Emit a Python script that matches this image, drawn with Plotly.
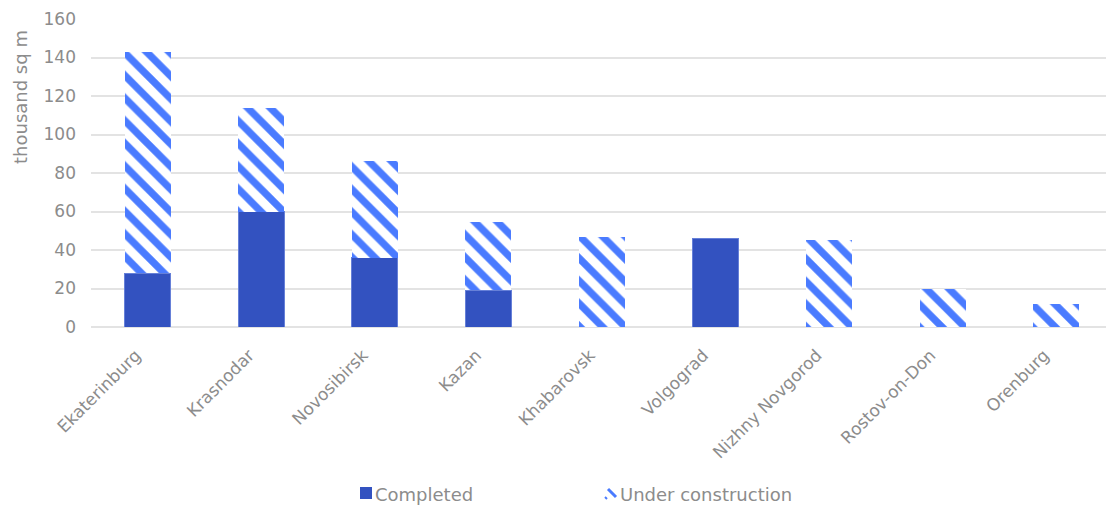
import plotly.graph_objects as go

cities = ["Ekaterinburg", "Krasnodar", "Novosibirsk", "Kazan", "Khabarovsk",
          "Volgograd", "Nizhny Novgorod", "Rostov-on-Don", "Orenburg"]
completed = [28, 60, 36, 19, 0, 46, 0, 0, 0]
under_construction = [115, 54, 50, 35.5, 47, 0, 45, 20, 12]
y_ticks = [0, 20, 40, 60, 80, 100, 120, 140, 160]

font_family = "DejaVu Sans, Verdana, sans-serif"
gray = "#8c8c8c"
c_done = "#3352c0"
c_hatch = "#4a7bff"

W, H = 1106, 508
ML, MR, MT, MB = 91, 0, 19, 181
PW, PH = W - ML - MR, H - MT - MB


def px(x):
    return (x - ML) / PW


def py(y):
    return (H - MB - y) / PH


fig = go.Figure()
fig.add_trace(go.Bar(
    x=cities, y=completed, name="Completed", width=0.405,
    marker=dict(color=c_done, line=dict(color="#6680d8", width=1)),
))
fig.add_trace(go.Bar(
    x=cities, y=under_construction, name="Under construction", width=0.405,
    marker=dict(color="white", line=dict(width=0),
                pattern=dict(shape="\\", fgcolor=c_hatch, bgcolor="white",
                             fgopacity=1, size=16, solidity=0.45,
                             fillmode="overlay")),
))

fig.add_annotation(text="thousand sq m", xref="paper", yref="paper",
                   x=px(20), y=py(97), xanchor="center", yanchor="middle",
                   textangle=-90, showarrow=False,
                   font=dict(size=18, color=gray, family=font_family))

# legend drawn manually along the bottom edge
LY = 494
legend_font = dict(size=18, color=gray, family=font_family)
fig.add_shape(type="rect", xref="paper", yref="paper",
              x0=px(360), x1=px(372), y0=py(LY + 5), y1=py(LY - 7),
              fillcolor=c_done, line=dict(width=0))
fig.add_annotation(text="Completed", xref="paper", yref="paper",
                   x=px(373), y=py(LY), xanchor="left", yanchor="middle",
                   showarrow=False, font=legend_font)
fig.add_shape(type="line", xref="paper", yref="paper",
              x0=px(608), y0=py(LY - 5), x1=px(616), y1=py(LY + 3),
              line=dict(color=c_hatch, width=3))
fig.add_shape(type="line", xref="paper", yref="paper",
              x0=px(605), y0=py(LY + 3), x1=px(607), y1=py(LY + 5),
              line=dict(color=c_hatch, width=2))
fig.add_annotation(text="Under construction", xref="paper", yref="paper",
                   x=px(618), y=py(LY), xanchor="left", yanchor="middle",
                   showarrow=False, font=legend_font)

fig.update_layout(
    barmode="stack",
    width=W, height=H,
    margin=dict(l=ML, r=MR, t=MT, b=MB),
    plot_bgcolor="white", paper_bgcolor="white",
    font=dict(family=font_family, size=17, color=gray),
    showlegend=False,
    xaxis=dict(range=[-0.5, 8.44], tickangle=-45, showgrid=False,
               ticks="", tickfont=dict(size=17, color=gray), showline=False,
               ticklabelstandoff=14, ticklabelshift=-12,
               automargin=False),
    yaxis=dict(range=[0, 160], tickvals=y_ticks, showgrid=True,
               gridcolor="#e3e3e3", gridwidth=2, zeroline=True,
               zerolinecolor="#e3e3e3", zerolinewidth=2,
               tickfont=dict(size=17, color=gray), ticklabelstandoff=14,
               automargin=False),
)

fig.write_html("out.html")
